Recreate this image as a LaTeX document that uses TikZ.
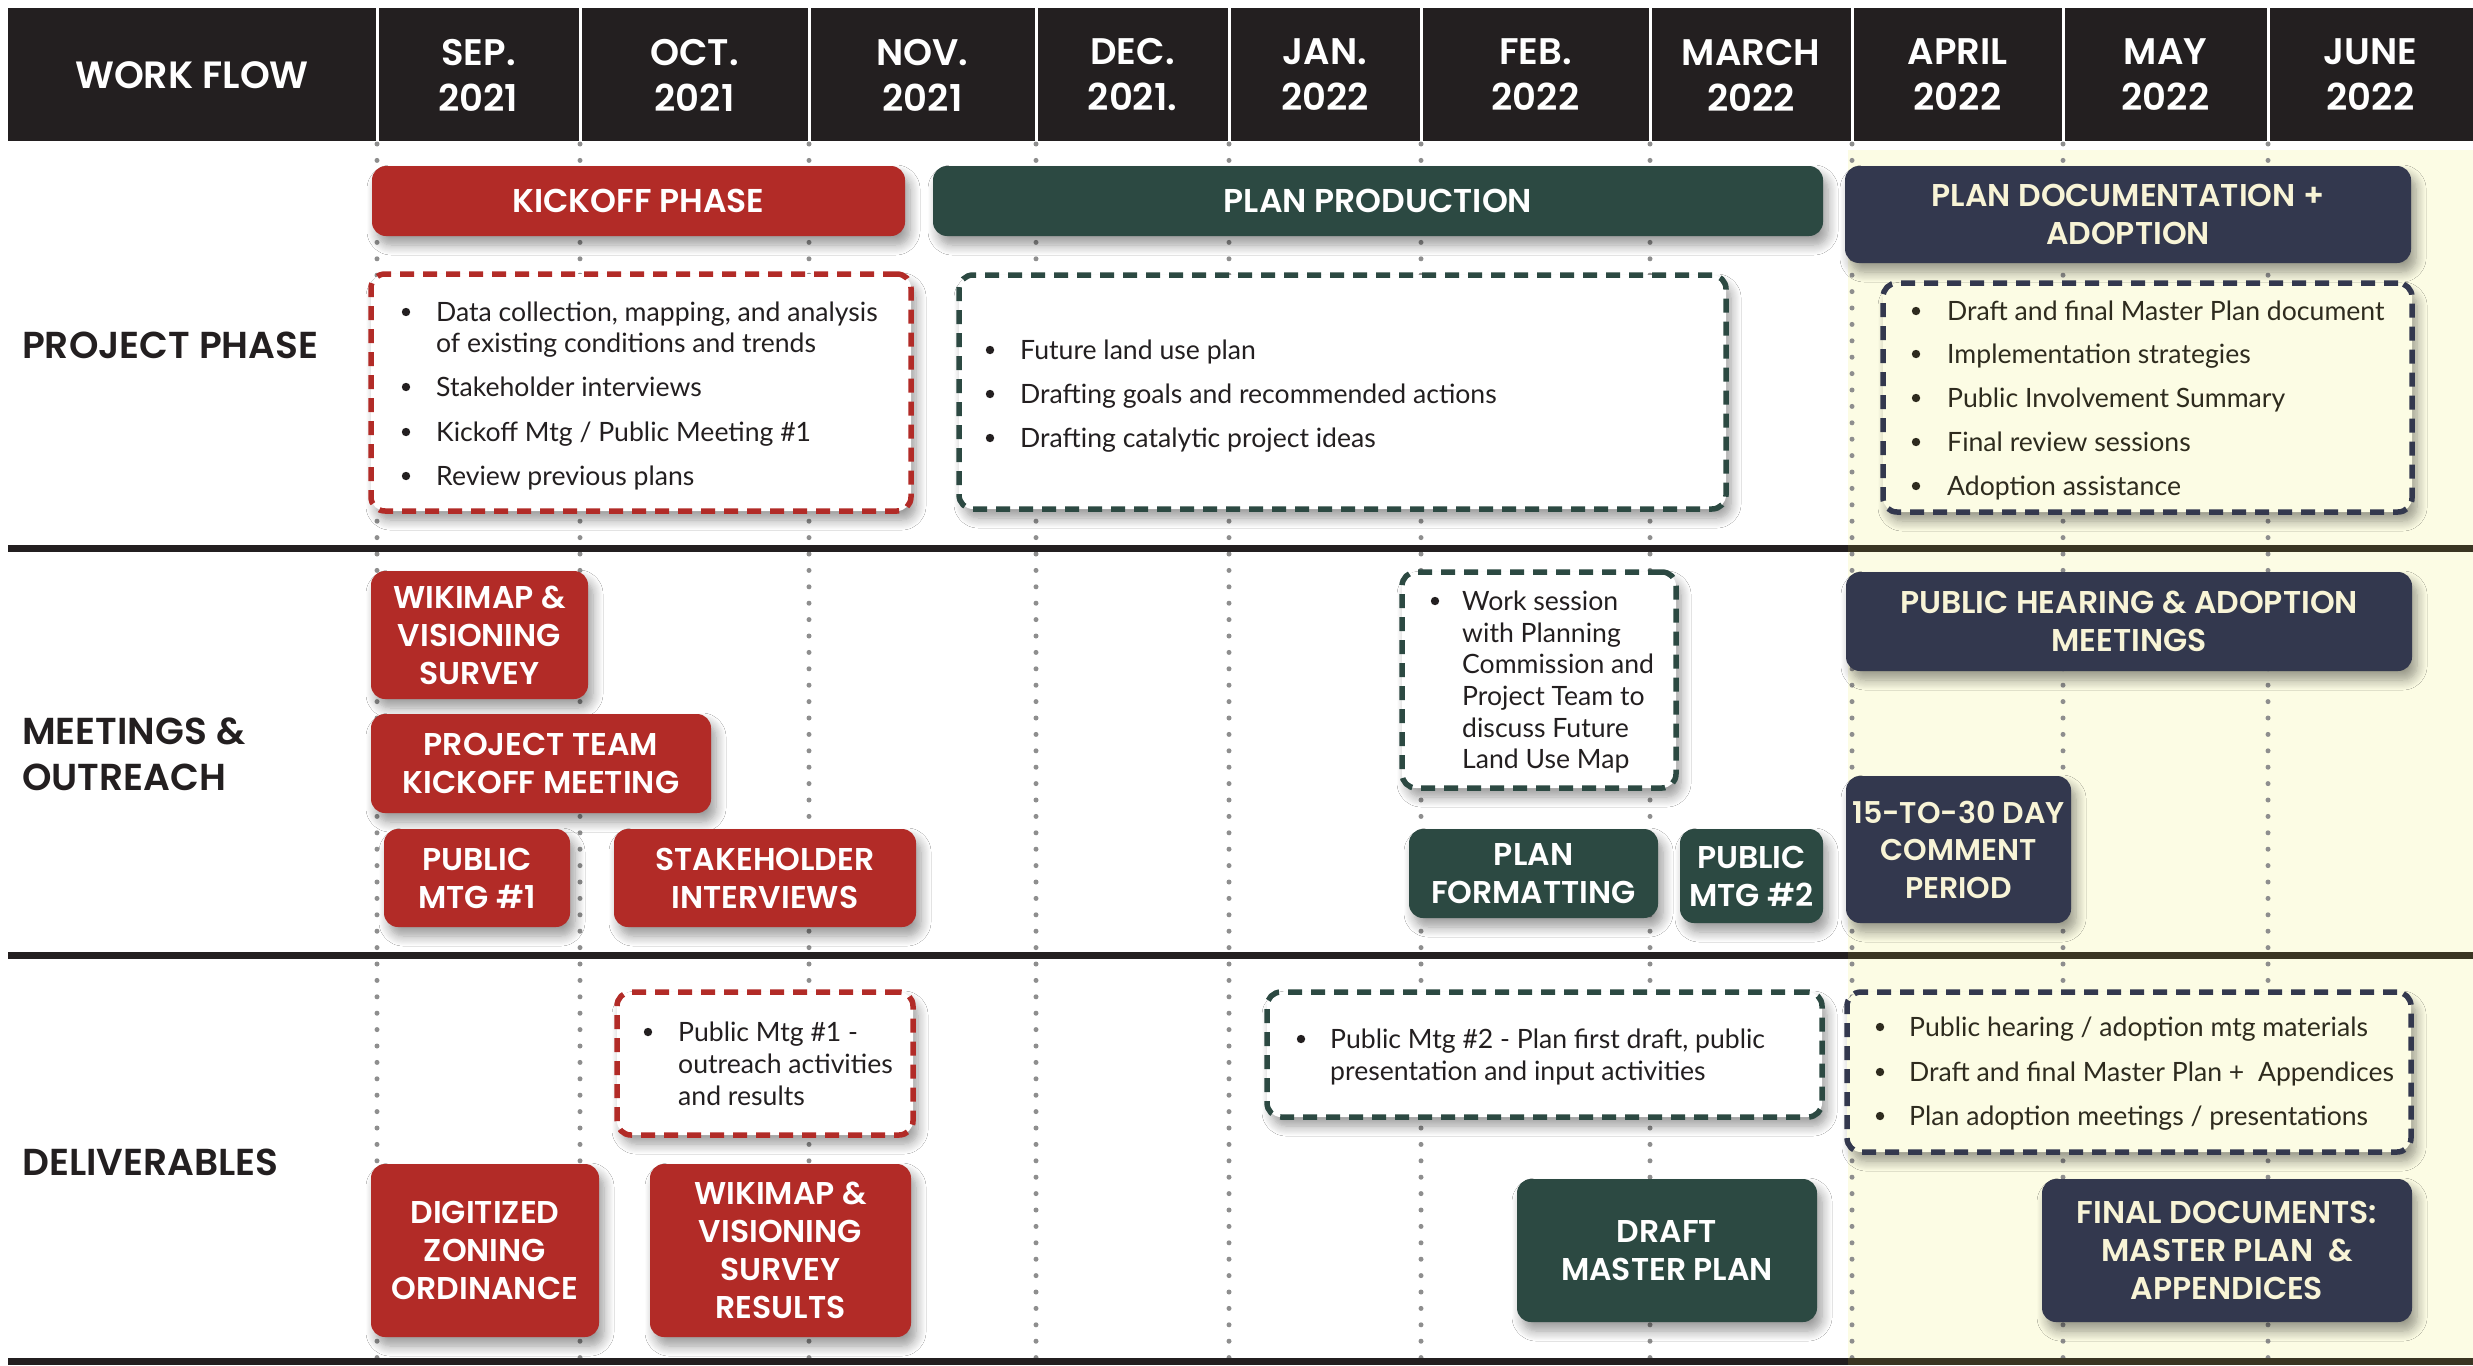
\documentclass[tikz,border=0pt]{standalone}
\usepackage{fontspec}
\setmainfont{Lato}
\newfontfamily\hfont{Poppins SemiBold}
\usetikzlibrary{shadows.blur}
\definecolor{hdr}{HTML}{231F20}
\definecolor{kred}{HTML}{B22B27}
\definecolor{kgreen}{HTML}{2C4942}
\definecolor{knavy}{HTML}{33384E}
\definecolor{cream}{HTML}{F8F4D6}
\definecolor{ylw}{HTML}{FCFCE4}
\definecolor{dotc}{HTML}{8E8E8E}
\definecolor{olive}{HTML}{3A3522}
\definecolor{ink}{HTML}{231F20}
\definecolor{oink}{HTML}{2E2B1E}
\newcommand\bdot[3]{\fill[#3] (#1,#2-9) circle (4.2);}
\tikzset{
  dots/.style={draw=dotc, line width=5pt, line cap=round, dash pattern=on 0pt off 16.4pt},
  shad/.style={blur shadow={shadow xshift=5pt, shadow yshift=-9pt, shadow blur radius=10pt, shadow opacity=40, shadow blur steps=10}},
  sbox/.style={rounded corners=14pt, inner sep=0pt, align=center, text=white, shad,
    font=\hfont\fontsize{31.5}{38}\selectfont},
  dbox/.style={rounded corners=14pt, inner sep=0pt, fill=white, line width=5.5pt, dash pattern=on 14pt off 9pt, shad},
  btxt/.style={anchor=base west, inner sep=0pt, text=ink, font=\fontsize{26.6}{31}\selectfont},
  hdrtxt/.style={text=white, inner sep=0pt, align=center, font=\hfont\fontsize{37}{46}\selectfont},
  rowlab/.style={anchor=base west, inner sep=0pt, text=ink, font=\hfont\fontsize{37.5}{46}\selectfont}
}
\begin{document}
\begin{tikzpicture}[x=1pt,y=-1pt]
\useasboundingbox (0,0) rectangle (2473,1365);
\fill[white] (0,0) rectangle (2473,1365);
\fill[ylw] (1848,150) rectangle (2473,1365);
% dotted column lines
\foreach \cx in {377,580,809,1036,1229,1421,1650,1852,2063,2268}{
  \draw[dots] (\cx,144) -- (\cx,1365);
}
% section dividers
\foreach \dy in {548,955,1361.5}{
  \fill[ink] (8,\dy-3.5) rectangle (1848,\dy+3.5);
  \fill[olive] (1848,\dy-3.5) rectangle (2473,\dy+3.5);
}
% header
\fill[hdr] (8,8) rectangle (2473,141);
\foreach \cx in {377,580,809,1036,1229,1421,1650,1852,2063,2268}{
  \draw[white, line width=3pt] (\cx,8) -- (\cx,141);
}
\node[hdrtxt, font=\hfont\fontsize{38}{46}\selectfont] (wf) at (192,75) {WORK FLOW};
\node[hdrtxt] (msep) at (478.5,75) {SEP.\\2021};
\node[hdrtxt] (moct) at (694.5,75) {OCT.\\2021};
\node[hdrtxt] (mnov) at (922.5,75) {NOV.\\2021};
\node[hdrtxt] (mdec) at (1132.5,75) {DEC.\\2021.};
\node[hdrtxt] (mjan) at (1325,75) {JAN.\\2022};
\node[hdrtxt] (mfeb) at (1535.5,75) {FEB.\\2022};
\node[hdrtxt] (mmar) at (1751,75) {MARCH\\2022};
\node[hdrtxt] (mapr) at (1957.5,75) {APRIL\\2022};
\node[hdrtxt] (mmay) at (2165.5,75) {MAY\\2022};
\node[hdrtxt] (mjun) at (2370.5,75) {JUNE\\2022};
% row labels
\node[rowlab] (lpp) at (22,358) {PROJECT PHASE};
\node[rowlab] (lmo1) at (22,744) {MEETINGS \&};
\node[rowlab] (lmo2) at (22,790) {OUTREACH};
\node[rowlab] (ldel) at (22,1175) {DELIVERABLES};
% ---- project phase row
\node[sbox, fill=kred, minimum width=533pt, minimum height=70pt, font=\hfont\fontsize{33}{38}\selectfont] (kick) at (638.5,201) {KICKOFF PHASE};
\node[sbox, fill=kgreen, minimum width=890pt, minimum height=70pt, font=\hfont\fontsize{33}{38}\selectfont] (prod) at (1378,201) {PLAN PRODUCTION};
\node[sbox, fill=knavy, text=cream, minimum width=566pt, minimum height=97pt] (doc) at (2128,214.5) {PLAN DOCUMENTATION +\\ADOPTION};
\node[dbox, draw=kred, minimum width=540pt, minimum height=237pt] (d1) at (641,392.5) {};
\bdot{406}{321}{ink}
\node[btxt] (d1a) at (436,321) {Data collection, mapping, and analysis};
\node[btxt] (d1b) at (436,352) {of existing conditions and trends};
\bdot{406}{396}{ink}
\node[btxt] (d1c) at (436,396) {Stakeholder interviews};
\bdot{406}{441}{ink}
\node[btxt] (d1d) at (436,441) {Kickoff Mtg / Public Meeting \#1};
\bdot{406}{485}{ink}
\node[btxt] (d1e) at (436,485) {Review previous plans};
\node[dbox, draw=kgreen, minimum width=767pt, minimum height=234pt] (d2) at (1342.5,392) {};
\bdot{990}{359}{ink}
\node[btxt] (d2a) at (1020,359) {Future land use plan};
\bdot{990}{403}{ink}
\node[btxt] (d2b) at (1020,403) {Drafting goals and recommended actions};
\bdot{990}{447}{ink}
\node[btxt] (d2c) at (1020,447) {Drafting catalytic project ideas};
\node[dbox, draw=knavy, fill=ylw, minimum width=529pt, minimum height=229pt] (d3) at (2147.5,397.5) {};
\bdot{1916}{320}{oink}
\node[btxt, text=oink] (d3a) at (1947,320) {Draft and final Master Plan document};
\bdot{1916}{363}{oink}
\node[btxt, text=oink] (d3b) at (1947,363) {Implementation strategies};
\bdot{1916}{407}{oink}
\node[btxt, text=oink] (d3c) at (1947,407) {Public Involvement Summary};
\bdot{1916}{451}{oink}
\node[btxt, text=oink] (d3d) at (1947,451) {Final review sessions};
\bdot{1916}{495}{oink}
\node[btxt, text=oink] (d3e) at (1947,495) {Adoption assistance};
% ---- meetings row
\node[sbox, fill=kred, minimum width=217pt, minimum height=128pt] (wiki) at (479.5,635) {WIKIMAP \&\\VISIONING\\SURVEY};
\node[sbox, fill=kred, minimum width=340pt, minimum height=99pt] (ptk) at (541,763.5) {PROJECT TEAM\\KICKOFF MEETING};
\node[sbox, fill=kred, minimum width=186pt, minimum height=98pt] (pm1) at (477,878) {PUBLIC\\MTG \#1};
\node[sbox, fill=kred, minimum width=302pt, minimum height=98pt] (stake) at (765,878) {STAKEHOLDER\\INTERVIEWS};
\node[dbox, draw=kgreen, minimum width=274pt, minimum height=216pt] (work) at (1539,680) {};
\bdot{1435}{610}{ink}
\node[btxt] (wa) at (1462,610) {Work session};
\node[btxt] (wb) at (1462,642) {with Planning};
\node[btxt] (wc) at (1462,673) {Commission and};
\node[btxt] (wd) at (1462,705) {Project Team to};
\node[btxt] (we) at (1462,737) {discuss Future};
\node[btxt] (wf2) at (1462,768) {Land Use Map};
\node[sbox, fill=kgreen, minimum width=249pt, minimum height=89pt] (pf) at (1533.5,873.5) {PLAN\\FORMATTING};
\node[sbox, fill=kgreen, minimum width=143pt, minimum height=94pt] (pm2) at (1751.5,876) {PUBLIC\\MTG \#2};
\node[sbox, fill=knavy, text=cream, minimum width=566pt, minimum height=99pt] (phm) at (2129,621.5) {PUBLIC HEARING \& ADOPTION\\MEETINGS};
\node[sbox, fill=knavy, text=cream, minimum width=225pt, minimum height=147pt, font=\hfont\fontsize{30}{37.5}\selectfont] (cmt) at (1958.5,849.5) {15-TO-30 DAY\\COMMENT\\PERIOD};
% ---- deliverables row
\node[dbox, draw=kred, minimum width=296pt, minimum height=143pt] (d4) at (765,1063.5) {};
\bdot{648}{1041}{ink}
\node[btxt] (d4a) at (678,1041) {Public Mtg \#1 -};
\node[btxt] (d4b) at (678,1073) {outreach activities};
\node[btxt] (d4c) at (678,1105) {and results};
\node[sbox, fill=kred, minimum width=228pt, minimum height=173pt] (dzo) at (485,1250.5) {DIGITIZED\\ZONING\\ORDINANCE};
\node[sbox, fill=kred, minimum width=261pt, minimum height=173pt] (wsr) at (780.5,1250.5) {WIKIMAP \&\\VISIONING\\SURVEY\\RESULTS};
\node[dbox, draw=kgreen, minimum width=555pt, minimum height=125pt] (d5) at (1544.5,1054.5) {};
\bdot{1301}{1048}{ink}
\node[btxt] (d5a) at (1330,1048) {Public Mtg \#2 - Plan first draft, public};
\node[btxt] (d5b) at (1330,1080) {presentation and input activities};
\node[dbox, draw=knavy, fill=ylw, minimum width=564pt, minimum height=160pt] (d6) at (2129,1072) {};
\bdot{1880}{1036}{oink}
\node[btxt, text=oink] (d6a) at (1909,1036) {Public hearing / adoption mtg materials};
\bdot{1880}{1081}{oink}
\node[btxt, text=oink] (d6b) at (1909,1081) {Draft and final Master Plan +\ \ Appendices};
\bdot{1880}{1125}{oink}
\node[btxt, text=oink] (d6c) at (1909,1125) {Plan adoption meetings / presentations};
\node[sbox, fill=kgreen, minimum width=300pt, minimum height=143pt] (dmp) at (1667,1250.5) {DRAFT\\MASTER PLAN};
\node[sbox, fill=knavy, text=cream, minimum width=370pt, minimum height=143pt] (fd) at (2227,1250.5) {FINAL DOCUMENTS:\\MASTER PLAN\ \ \&\\APPENDICES};
\end{tikzpicture}
\end{document}
